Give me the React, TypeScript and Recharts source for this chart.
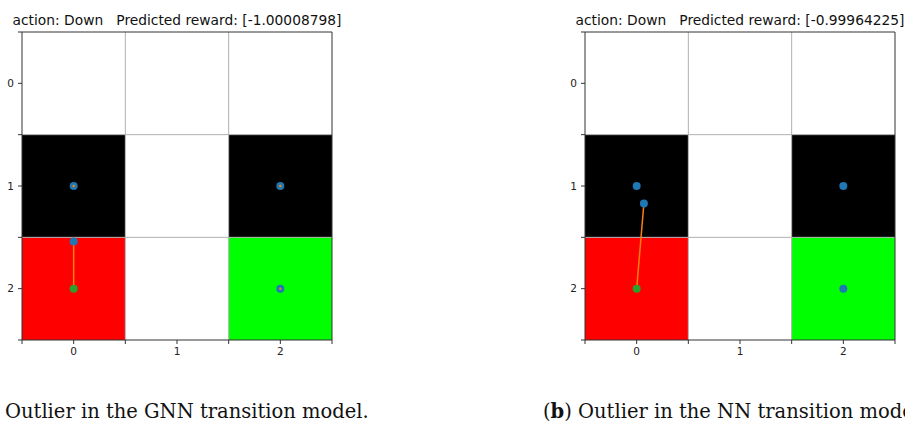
import React from "react";
import {
  ScatterChart,
  Scatter,
  XAxis,
  YAxis,
  ReferenceArea,
  ReferenceLine,
} from "recharts";

// grid world cells, row by row (row 0 on top)
const cellColors = [
  ["#ffffff", "#ffffff", "#ffffff"],
  ["#000000", "#ffffff", "#000000"],
  ["#ff0000", "#ffffff", "#00ff00"],
];

const axisTicks = [-0.5, 0, 0.5, 1, 1.5, 2, 2.5];
const gridLines = [0.5, 1.5];

// (a) GNN transition model
const gnnTitle = "action: Down   Predicted reward: [-1.00008798]";
const gnnBlue = [
  { x: 0, y: 1 },
  { x: 2, y: 1 },
  { x: 2, y: 2 },
  { x: 0, y: 1.54 },
];
const gnnGreen = [{ x: 0, y: 2 }];
const gnnOrange = [
  { x: 0, y: 1 },
  { x: 2, y: 1 },
  { x: 2, y: 2 },
];
const gnnSegments = [
  [
    { x: 0, y: 1.54 },
    { x: 0, y: 2 },
  ],
];

// (b) NN transition model
const nnTitle = "action: Down   Predicted reward: [-0.99964225]";
const nnBlue = [
  { x: 0, y: 1 },
  { x: 2, y: 1 },
  { x: 2, y: 2 },
  { x: 0.07, y: 1.17 },
];
const nnGreen = [{ x: 0, y: 2 }];
const nnOrange: { x: number; y: number }[] = [];
const nnSegments = [
  [
    { x: 0.07, y: 1.17 },
    { x: 0, y: 2 },
  ],
];

const BLUE = "#1f77b4";
const ORANGE = "#ff7f0e";
const GREEN = "#2ca02c";
const SPINE = "#333333";
const tickStyle = { fontFamily: "DejaVu Sans", fontSize: 10.5, fill: "#222" };

const dot = (r: number, fill: string) => (p: any) =>
  <circle cx={p.cx} cy={p.cy} r={r} fill={fill} />;

const fmt = (v: number) => (Number.isInteger(v) ? String(v) : "");

function GridPanel({ left, title, blue, green, orange, segments }: any) {
  const w = 342;
  return (
    <div style={{ position: "absolute", left, top: 0, width: w, height: 370 }}>
      <div
        style={{
          position: "absolute",
          left: 22 + 155,
          top: 12,
          transform: "translateX(-50%)",
          fontFamily: "DejaVu Sans",
          fontSize: 13.8,
          lineHeight: "16px",
          whiteSpace: "pre",
          color: "#111",
        }}
      >
        {title}
      </div>
      <ScatterChart
        width={w}
        height={370}
        margin={{ top: 32, right: 10, bottom: 0, left: 0 }}
      >
        <XAxis
          type="number"
          dataKey="x"
          domain={[-0.5, 2.5]}
          ticks={axisTicks}
          tickFormatter={fmt}
          interval={0}
          height={30}
          tickSize={4}
          tickMargin={4}
          tick={tickStyle}
          stroke={SPINE}
          allowDataOverflow
        />
        <YAxis
          type="number"
          dataKey="y"
          domain={[-0.5, 2.5]}
          reversed
          ticks={axisTicks}
          tickFormatter={fmt}
          interval={0}
          width={22}
          tickSize={4}
          tickMargin={4}
          tick={tickStyle}
          stroke={SPINE}
          allowDataOverflow
        />
        {cellColors.map((row, r) =>
          row.map((c, col) => (
            <ReferenceArea
              key={`c${r}-${col}`}
              x1={col - 0.5}
              x2={col + 0.5}
              y1={r - 0.5}
              y2={r + 0.5}
              fill={c}
              fillOpacity={1}
              stroke="none"
            />
          ))
        )}
        {gridLines.map((g) => (
          <ReferenceLine key={`gx${g}`} x={g} stroke="#b0b0b0" strokeWidth={1} />
        ))}
        {gridLines.map((g) => (
          <ReferenceLine key={`gy${g}`} y={g} stroke="#b0b0b0" strokeWidth={1} />
        ))}
        <ReferenceLine x={2.5} stroke={SPINE} strokeWidth={1} />
        <ReferenceLine y={-0.5} stroke={SPINE} strokeWidth={1} />
        <Scatter data={blue} shape={dot(4, BLUE)} isAnimationActive={false} />
        {segments.map((s: any, i: number) => (
          <ReferenceLine
            key={`s${i}`}
            segment={s}
            stroke={ORANGE}
            strokeWidth={1.5}
          />
        ))}
        <Scatter data={orange} shape={dot(1.2, ORANGE)} isAnimationActive={false} />
        <Scatter data={green} shape={dot(4, GREEN)} isAnimationActive={false} />
      </ScatterChart>
    </div>
  );
}

const captionStyle: React.CSSProperties = {
  position: "absolute",
  top: 400,
  fontFamily: "DejaVu Serif",
  fontSize: 19.5,
  lineHeight: "24px",
  whiteSpace: "pre",
  color: "#111",
};

export default function App() {
  return (
    <div
      style={{
        position: "absolute",
        left: 0,
        top: 0,
        width: 905,
        height: 424,
        overflow: "hidden",
        background: "#fff",
      }}
    >
      <GridPanel
        left={0}
        title={gnnTitle}
        blue={gnnBlue}
        green={gnnGreen}
        orange={gnnOrange}
        segments={gnnSegments}
      />
      <GridPanel
        left={563}
        title={nnTitle}
        blue={nnBlue}
        green={nnGreen}
        orange={nnOrange}
        segments={nnSegments}
      />
      <div style={{ ...captionStyle, left: 5 }}>Outlier in the GNN transition model.</div>
      <div style={{ ...captionStyle, left: 543 }}>
        (<b>b</b>) Outlier in the NN transition model.
      </div>
    </div>
  );
}
